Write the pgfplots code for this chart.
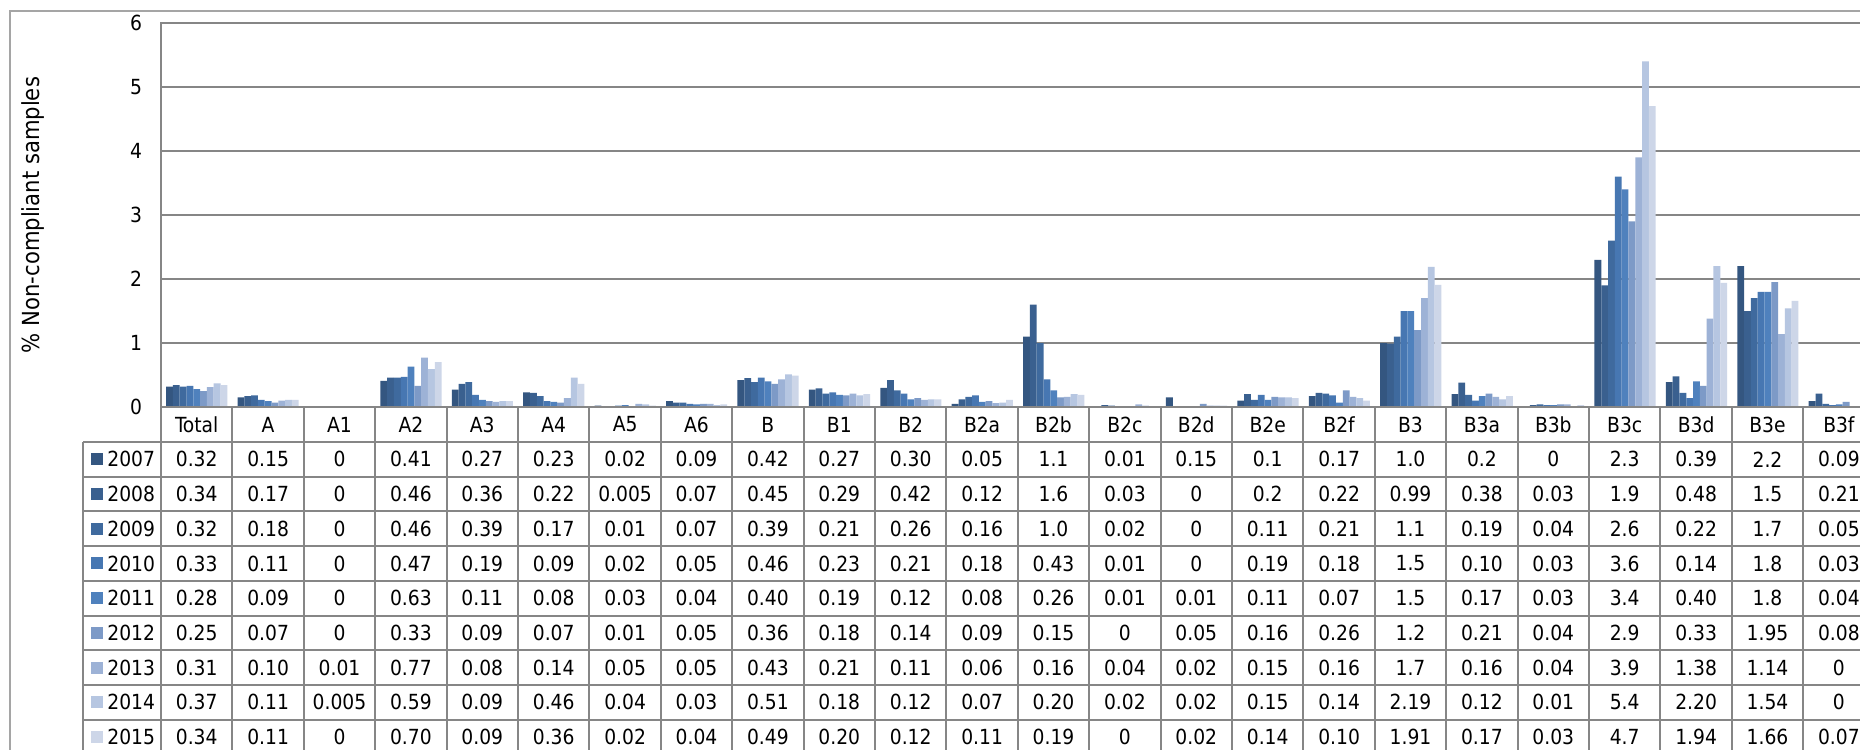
\documentclass[border=0pt]{standalone}
\usepackage{fontspec}
\setmainfont{DejaVu Sans Condensed}
\usepackage{pgfplots}
\usepackage{pgfplotstable}
\pgfplotsset{compat=1.18}

\definecolor{c2007}{RGB}{52,86,128}
\definecolor{c2008}{RGB}{58,96,143}
\definecolor{c2009}{RGB}{63,106,158}
\definecolor{c2010}{RGB}{71,119,178}
\definecolor{c2011}{RGB}{79,129,189}
\definecolor{c2012}{RGB}{125,154,199}
\definecolor{c2013}{RGB}{157,178,214}
\definecolor{c2014}{RGB}{182,198,225}
\definecolor{c2015}{RGB}{205,214,232}
\definecolor{gridc}{RGB}{134,134,134}
\definecolor{framec}{RGB}{165,165,165}

\pgfplotstableread{
cat   y2007 y2008 y2009 y2010 y2011 y2012 y2013 y2014 y2015
Total 0.32  0.34  0.32  0.33  0.28  0.25  0.31  0.37  0.34
A     0.15  0.17  0.18  0.11  0.09  0.07  0.10  0.11  0.11
A1    0     0     0     0     0     0     0.01  0.005 0
A2    0.41  0.46  0.46  0.47  0.63  0.33  0.77  0.59  0.70
A3    0.27  0.36  0.39  0.19  0.11  0.09  0.08  0.09  0.09
A4    0.23  0.22  0.17  0.09  0.08  0.07  0.14  0.46  0.36
A5    0.02  0.005 0.01  0.02  0.03  0.01  0.05  0.04  0.02
A6    0.09  0.07  0.07  0.05  0.04  0.05  0.05  0.03  0.04
B     0.42  0.45  0.39  0.46  0.40  0.36  0.43  0.51  0.49
B1    0.27  0.29  0.21  0.23  0.19  0.18  0.21  0.18  0.20
B2    0.30  0.42  0.26  0.21  0.12  0.14  0.11  0.12  0.12
B2a   0.05  0.12  0.16  0.18  0.08  0.09  0.06  0.07  0.11
B2b   1.1   1.6   1.0   0.43  0.26  0.15  0.16  0.20  0.19
B2c   0.01  0.03  0.02  0.01  0.01  0     0.04  0.02  0
B2d   0.15  0     0     0     0.01  0.05  0.02  0.02  0.02
B2e   0.1   0.2   0.11  0.19  0.11  0.16  0.15  0.15  0.14
B2f   0.17  0.22  0.21  0.18  0.07  0.26  0.16  0.14  0.10
B3    1.0   0.99  1.1   1.5   1.5   1.2   1.7   2.19  1.91
B3a   0.2   0.38  0.19  0.10  0.17  0.21  0.16  0.12  0.17
B3b   0     0.03  0.04  0.03  0.03  0.04  0.04  0.01  0.03
B3c   2.3   1.9   2.6   3.6   3.4   2.9   3.9   5.4   4.7
B3d   0.39  0.48  0.22  0.14  0.40  0.33  1.38  2.20  1.94
B3e   2.2   1.5   1.7   1.8   1.8   1.95  1.14  1.54  1.66
B3f   0.09  0.21  0.05  0.03  0.04  0.08  0     0     0.07
}\data

\newcommand{\tfont}{\fontsize{10.4}{12.4}\selectfont}

\begin{document}
\begin{tikzpicture}
\useasboundingbox (0pt,0pt) rectangle (930pt,-375pt);
\clip (0pt,0pt) rectangle (930pt,-375pt);
\fill[white] (0pt,0pt) rectangle (930pt,-375pt);
\begin{scope}[x=0.5pt,y=-0.5pt]
  \draw[framec, line width=0.75pt] (10,11) rectangle (2000,900);
\end{scope}
\begin{axis}[
  at={(80.5pt,-203.5pt)}, anchor=south west,
  scale only axis, width=857pt, height=192pt,
  xmin=-0.5, xmax=23.5, ymin=0, ymax=6,
  ytick={0,1,...,6}, xtick=\empty,
  ymajorgrids, grid style={gridc, line width=1pt},
  axis line style={gridc, line width=1pt},
  major tick length=0pt,
  yticklabel style={font=\tfont, xshift=-6pt},
  /pgf/number format/assume math mode=true,
  ybar=0pt, bar width=0.0952,
  every axis plot/.append style={draw=none},
]
\addplot[fill=c2007] table[x expr=\coordindex, y=y2007]{\data};
\addplot[fill=c2008] table[x expr=\coordindex, y=y2008]{\data};
\addplot[fill=c2009] table[x expr=\coordindex, y=y2009]{\data};
\addplot[fill=c2010] table[x expr=\coordindex, y=y2010]{\data};
\addplot[fill=c2011] table[x expr=\coordindex, y=y2011]{\data};
\addplot[fill=c2012] table[x expr=\coordindex, y=y2012]{\data};
\addplot[fill=c2013] table[x expr=\coordindex, y=y2013]{\data};
\addplot[fill=c2014] table[x expr=\coordindex, y=y2014]{\data};
\addplot[fill=c2015] table[x expr=\coordindex, y=y2015]{\data};
\end{axis}
\begin{scope}[x=0.5pt,y=-0.5pt]
  % y label
  \node[rotate=90, font=\fontsize{11.75}{13.75}\selectfont] at (33,215) {\% Non-compliant samples};
  % table grid
  \draw[gridc, line width=1pt] (161,407) -- (1950,407);
  \foreach \k in {0,...,9} {
    \draw[gridc, line width=1pt] (83,{442+34.7*\k}) -- (1950,{442+34.7*\k});
  }
  \draw[gridc, line width=1pt] (83,442) -- (83,800);
  \foreach \c in {0,...,24} {
    \draw[gridc, line width=1pt] ({161+71.4*\c},407) -- ({161+71.4*\c},800);
  }
  % legend column
  \foreach \r/\yr in {0/2007,1/2008,2/2009,3/2010,4/2011,5/2012,6/2013,7/2014,8/2015} {
    \fill[c\yr] (91,{442+34.7*(\r+0.5)-6}) rectangle (103,{442+34.7*(\r+0.5)+6});
    \node[anchor=west, inner sep=0pt, font=\tfont] at (107,{442+34.7*(\r+0.5)}) {\yr};
  }
  % header and values
  \foreach \c in {0,...,23} {
    \pgfplotstablegetelem{\c}{cat}\of\data
    \node[inner sep=0pt, font=\tfont] at ({161+71.4*(\c+0.5)},424.5) {\pgfplotsretval};
    \foreach \r/\col in {0/y2007,1/y2008,2/y2009,3/y2010,4/y2011,5/y2012,6/y2013,7/y2014,8/y2015} {
      \pgfplotstablegetelem{\c}{\col}\of\data
      \node[inner sep=0pt, font=\tfont] at ({161+71.4*(\c+0.5)},{442+34.7*(\r+0.5)}) {\pgfplotsretval};
    }
  }
\end{scope}
\end{tikzpicture}
\end{document}
